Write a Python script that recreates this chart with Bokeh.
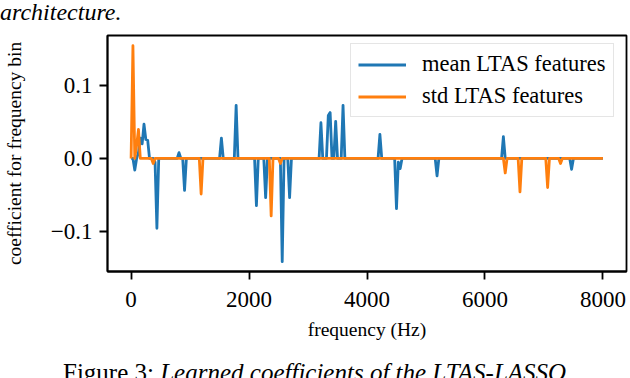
import numpy as np
from bokeh.plotting import figure
from bokeh.layouts import column
from bokeh.models import (Range1d, FixedTicker, CustomJSTickFormatter, Legend,
                          LegendItem, Div)
from bokeh.embed import file_html
from bokeh.resources import INLINE

# ---- data ----
N_BINS = 257          # LTAS bins from 0 to 8000 Hz
F_MAX = 8000

mean_bins = [2, 4, 5, 6, 7, 8, 9, 13, 14, 26, 29, 49, 57, 68, 73, 82, 86,
             103, 107, 108, 111, 115, 135, 144, 145, 146, 166, 202, 239]
mean_vals = [-0.016, 0.008, 0.028, 0.020, 0.047, 0.026, 0.025, -0.005, -0.096,
             0.008, -0.044, 0.028, 0.073, -0.065, -0.054, -0.142, -0.054,
             0.049, 0.059, 0.063, 0.051, 0.073, 0.033, -0.069, -0.005, -0.014,
             -0.024, 0.030, -0.015]

std_bins = [1, 3, 4, 12, 38, 76, 81, 203, 211, 226, 233]
std_vals = [0.155, 0.018, 0.040, -0.007, -0.049, -0.079, -0.007, -0.020,
            -0.046, -0.040, -0.007]

x_ticks = [0, 2000, 4000, 6000, 8000]
y_ticks = [-0.1, 0.0, 0.1]

freq = np.linspace(0, F_MAX, N_BINS)
mean_coef = np.zeros(N_BINS)
mean_coef[mean_bins] = mean_vals
std_coef = np.zeros(N_BINS)
std_coef[std_bins] = std_vals

FONT = "Liberation Serif"

p = figure(width=630, height=334, output_backend="svg", toolbar_location=None,
           x_range=Range1d(-400, 8400), y_range=Range1d(-0.1555, 0.169),
           min_border_left=104, min_border_right=4, min_border_top=8,
           min_border_bottom=90, margin=0)
p.background_fill_color = "white"
p.border_fill_color = "white"
p.outline_line_color = "black"
p.outline_line_width = 1.8
p.grid.visible = False

r_mean = p.line(freq, mean_coef, line_color="#1f77b4", line_width=2.8,
                line_join="round")
r_std = p.line(freq, std_coef, line_color="#ff7f0e", line_width=2.8,
               line_join="round")

for ax in (p.xaxis[0], p.yaxis[0]):
    ax.axis_line_color = "black"
    ax.axis_line_width = 1.8
    ax.major_tick_in = 0
    ax.major_tick_out = 8
    ax.major_tick_line_width = 1.8
    ax.major_tick_line_color = "black"
    ax.minor_tick_line_color = None
    ax.major_label_text_font = FONT
    ax.major_label_text_font_size = "23px"
    ax.major_label_text_color = "black"
    ax.axis_label_text_font = FONT
    ax.axis_label_text_font_size = "19.5px"
    ax.axis_label_text_font_style = "normal"
    ax.axis_label_text_color = "black"

p.xaxis.ticker = FixedTicker(ticks=x_ticks)
p.yaxis.ticker = FixedTicker(ticks=y_ticks)
p.yaxis.formatter = CustomJSTickFormatter(
    code="return tick.toFixed(1).replace('-', '\u2212');")
p.xaxis.axis_label = "frequency (Hz)"
p.yaxis.axis_label = "coefficient for frequency bin"
p.xaxis.major_label_standoff = 12
p.yaxis.major_label_standoff = 7
p.xaxis.axis_label_standoff = 9
p.yaxis.axis_label_standoff = 23

legend = Legend(items=[LegendItem(label="mean LTAS features", renderers=[r_mean]),
                       LegendItem(label="std LTAS features", renderers=[r_std])],
                location=(243, 154), margin=0, padding=7, spacing=6,
                glyph_width=48, glyph_height=25, label_height=25,
                label_standoff=16, label_text_font=FONT,
                label_text_font_size="22.5px", label_text_color="black",
                border_line_color="#cccccc", border_line_width=1.5,
                background_fill_color="white", background_fill_alpha=0.8)
p.add_layout(legend)

text_style = {"font-family": FONT, "font-size": "24px", "line-height": "24px",
              "color": "black", "white-space": "nowrap"}

top_div = Div(text="<i>architecture.</i>", width=630, height=27, margin=0,
              styles=dict(text_style))
cap_style = dict(text_style)
cap_style["padding-left"] = "63px"
cap_style["font-size"] = "25px"
cap_style["overflow"] = "hidden"
cap_div = Div(text="Figure 3: <i>Learned coefficients of the LTAS-LASSO</i>",
              width=630, height=17, margin=0, styles=cap_style)

layout = column(top_div, p, cap_div, spacing=0, margin=0)

open("out.html", "w").write(file_html(layout, INLINE))
